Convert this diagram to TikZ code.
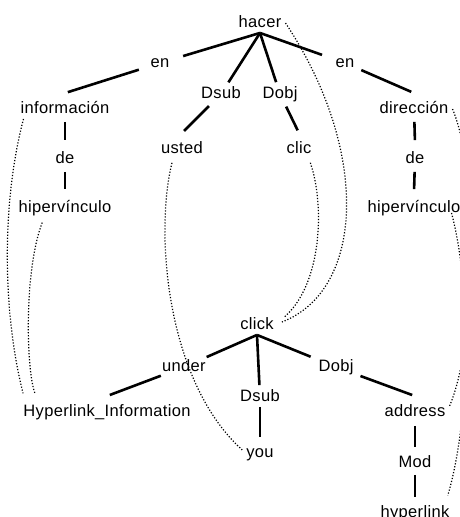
\documentclass[tikz,border=0pt]{standalone}
\usepackage{fontspec}
\setmainfont{Liberation Sans}[LetterSpace=2.0]
\usepackage{tikz}

\begin{document}
\begin{tikzpicture}[x=1pt, y=-1pt,
  word/.style={font=\fontsize{16.5}{18}\selectfont, inner xsep=4pt, inner ysep=2pt, text height=12pt, text depth=3.5pt},
  dep/.style={line width=2.6pt, shorten <=3pt, shorten >=3pt},
  corr/.style={dash pattern=on 1.2pt off 1.8pt, line width=1.2pt}]
\useasboundingbox (0,0) rectangle (459,517);
\path (260,23) node (hacer) [word] {hacer};
\path (160,63) node (en1) [word] {en};
\path (345,63) node (en2) [word] {en};
\path (221,94) node (dsubA) [word] {Dsub};
\path (280,94) node (dobjA) [word] {Dobj};
\path (65,109) node (info) [word] {información};
\path (414,109) node (dir) [word] {dirección};
\path (182,149) node (usted) [word] {usted};
\path (299,149) node (clic) [word] {clic};
\path (65,159) node (deA) [word] {de};
\path (415,159) node (deB) [word] {de};
\path (65,208) node (hipA) [word] {hipervínculo};
\path (414,208) node (hipB) [word] {hipervínculo};
\path (257,325) node (click) [word] {click};
\path (184,367) node (under) [word] {under};
\path (336,367) node (dobjB) [word] {Dobj};
\path (260,397) node (dsubB) [word] {Dsub};
\path (107,412) node (hyperInfo) [word] {Hyperlink\_Information};
\path (415,412) node (address) [word] {address};
\path (260,453) node (you) [word] {you};
\path (415,463) node (mod) [word] {Mod};
\path (415,513) node (hyperlink) [word] {hyperlink};
\draw[dep, shorten <=0pt, shorten >=10pt] (hacer.south) -- (en1);
\draw[dep, shorten <=0pt, shorten >=2pt] (hacer.south) -- (dsubA);
\draw[dep, shorten <=0pt, shorten >=2pt] (hacer.south) -- (dobjA);
\draw[dep, shorten <=0pt, shorten >=10pt] (hacer.south) -- (en2);
\draw[dep, shorten <=8pt] (en1) -- ([yshift=6pt]info.north);
\draw[dep] (info) -- ([yshift=6pt]deA.north);
\draw[dep] (deA) -- ([yshift=6pt]hipA.north);
\draw[dep] (dsubA) -- ([yshift=6pt]usted.north);
\draw[dep] (dobjA) -- ([yshift=6pt]clic.north);
\draw[dep] (en2) -- ([yshift=6pt]dir.north);
\draw[dep] (dir) -- ([yshift=6pt]deB.north);
\draw[dep] (deB) -- ([yshift=6pt]hipB.north);
\draw[dep, shorten <=0pt, shorten >=0pt] (click.south) -- (under);
\draw[dep, shorten <=0pt, shorten >=2pt] (click.south) -- (dsubB);
\draw[dep, shorten <=0pt, shorten >=4pt] (click.south) -- (dobjB);
\draw[dep, shorten <=-3pt] (under) -- ([yshift=6pt]hyperInfo.north);
\draw[dep, shorten <=0pt, shorten >=0pt] (dsubB) -- ([yshift=6pt]you.north);
\draw[dep] (dobjB) -- ([yshift=6pt]address.north);
\draw[dep, shorten <=4pt, shorten >=0pt] (address) -- ([yshift=6pt]mod.north);
\draw[dep, shorten <=2pt, shorten >=0pt] (mod) -- ([yshift=6pt]hyperlink.north);
\draw[corr, shorten >=9pt] ([xshift=7pt]info.south west) .. controls (2,200) and (2,310) .. ([xshift=6pt]hyperInfo.north west);
\draw[corr, shorten <=5pt, shorten >=9pt] ([xshift=-21pt]hipA.south) .. controls (24,270) and (26,370) .. ([xshift=19pt]hyperInfo.north west);
\draw[corr, shorten <=4pt] ([xshift=-9pt]usted.south) .. controls (155,230) and (165,380) .. (you.170);
\draw[corr, shorten <=4pt] ([xshift=10pt]clic.south) .. controls (325,205) and (322,285) .. ([xshift=6pt]click.20);
\draw[corr] (hacer.east) .. controls (370,150) and (365,290) .. ([xshift=4pt,yshift=3pt]click.east);
\draw[corr] (dir.east) .. controls (480,175) and (476,345) .. ([yshift=6pt]address.east);
\draw[corr, shorten >=8pt] ([xshift=-13pt,yshift=5pt]hipB.south east) .. controls (472,290) and (470,420) .. ([xshift=-8pt]hyperlink.north east);
\end{tikzpicture}
\end{document}
